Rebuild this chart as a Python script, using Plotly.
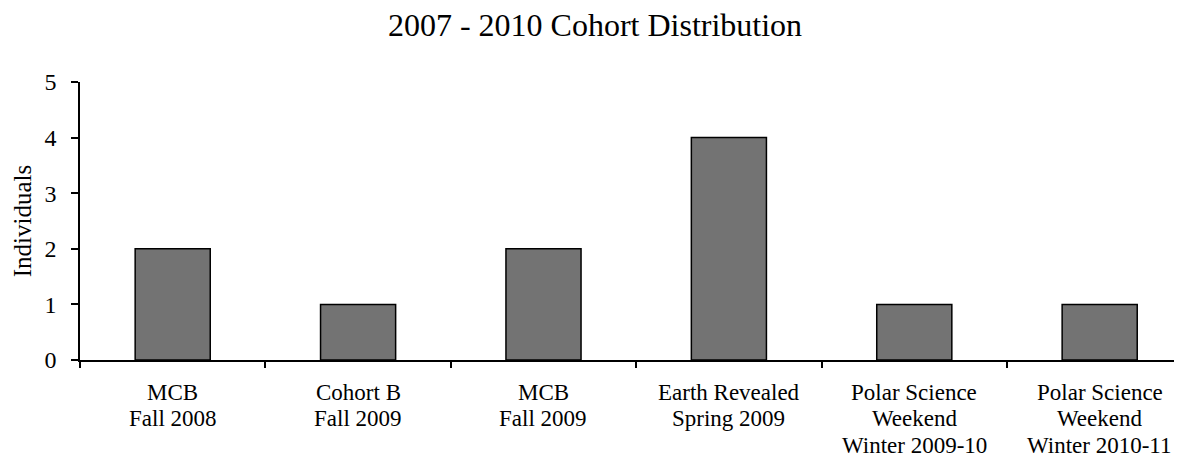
import plotly.graph_objects as go

categories = [
    "MCB<br>Fall 2008",
    "Cohort B<br>Fall 2009",
    "MCB<br>Fall 2009",
    "Earth Revealed<br>Spring 2009",
    "Polar Science<br>Weekend<br>Winter 2009-10",
    "Polar Science<br>Weekend<br>Winter 2010-11",
]
individuals = [2, 1, 2, 4, 1, 1]
y_ticks = [0, 1, 2, 3, 4, 5]

FONT = "Liberation Serif, Times New Roman, serif"

# The page adds an 8px body margin, so the figure is sized to fit the window.
W, H = 1174, 449
LABEL_FIRST = 32      # px below the axis for the first label line
LABEL_STEP = 26.5     # px between label lines

fig = go.Figure(
    go.Bar(
        x=categories,
        y=individuals,
        width=0.405,
        marker=dict(color="#737373", line=dict(color="#000000", width=1.5)),
    )
)

# Category labels written line by line at the category positions (tight line spacing)
annotations = []
for cat in categories:
    for i, line in enumerate(cat.split("<br>")):
        annotations.append(
            dict(
                x=cat,
                xref="x",
                y=0,
                yref="paper",
                yanchor="middle",
                xanchor="center",
                yshift=-(LABEL_FIRST + LABEL_STEP * i),
                text=line,
                showarrow=False,
                font=dict(family=FONT, size=23, color="#000000"),
            )
        )

fig.update_layout(
    width=W,
    height=H,
    paper_bgcolor="white",
    plot_bgcolor="white",
    margin=dict(l=72, r=0, t=74, b=97, autoexpand=False),
    font=dict(family=FONT, size=24, color="#000000"),
    title=dict(
        text="2007 - 2010 Cohort Distribution",
        x=0.5,
        xanchor="center",
        y=1 - 17 / H,
        yanchor="middle",
        font=dict(family=FONT, size=32, color="#000000"),
    ),
    showlegend=False,
    annotations=annotations,
)

fig.update_xaxes(
    range=[-0.5, 5.444],
    automargin=False,
    showline=True,
    linecolor="#000000",
    linewidth=1.5,
    ticks="outside",
    tickson="boundaries",
    ticklen=6,
    tickwidth=1.5,
    tickcolor="#000000",
    showgrid=False,
    zeroline=False,
    showticklabels=False,
)

fig.update_yaxes(
    range=[0, 5],
    automargin=False,
    tickvals=y_ticks,
    showline=True,
    linecolor="#000000",
    linewidth=1.5,
    ticks="outside",
    ticklen=7,
    tickwidth=1.5,
    tickcolor="#000000",
    showgrid=False,
    zeroline=False,
    tickfont=dict(family=FONT, size=24, color="#000000"),
    ticklabelstandoff=10,
    title=dict(text="Individuals", font=dict(family=FONT, size=25, color="#000000"), standoff=6),
)

fig.write_html("out.html")
